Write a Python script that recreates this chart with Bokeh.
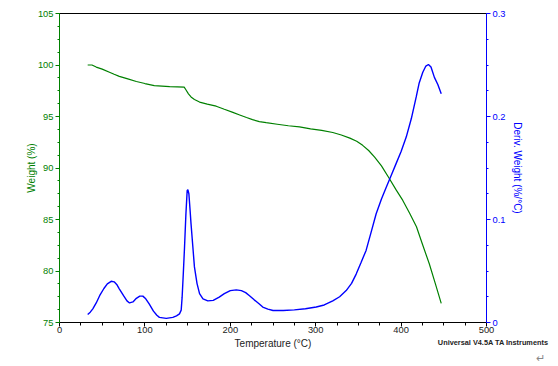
from bokeh.plotting import figure
from bokeh.models import LinearAxis, Range1d, FixedTicker, Title
from bokeh.embed import file_html
from bokeh.resources import INLINE

# Weight (%) curve
w_temp = [33, 38, 43, 50, 58.5, 64, 70, 80, 90, 100, 111, 120, 129, 138, 146, 148, 151, 154, 158, 164,
          173, 183.5, 193, 203, 211, 219, 226, 234, 242, 255, 268, 281, 294, 307, 320, 330, 340, 348,
          355, 362, 369, 377, 386, 394, 402, 410, 418, 425, 433, 440, 447]
w_val = [100.0, 100.0, 99.8, 99.6, 99.3, 99.1, 98.9, 98.65, 98.4, 98.2, 98.0, 97.95, 97.9, 97.88, 97.85,
         97.6, 97.2, 96.9, 96.65, 96.4, 96.2, 96.0, 95.7, 95.4, 95.15, 94.9, 94.7, 94.5, 94.4, 94.25,
         94.1, 94.0, 93.8, 93.65, 93.45, 93.2, 92.9, 92.6, 92.2, 91.7, 91.05, 90.2, 89.0, 87.9, 86.85,
         85.6, 84.3, 82.6, 80.7, 78.8, 76.85]

# Deriv. Weight (%/°C) curve
d_temp = [33, 36, 39, 43, 47, 52, 56, 60.5, 64, 67, 70, 75, 79, 82, 86, 90, 94, 97.6, 101, 105, 110,
          114, 117, 125, 132.7, 137, 140.5, 142.5, 143.6, 145, 146.4, 148, 149.5, 150.3, 151.5, 153,
          154, 156, 158, 161, 164, 168, 173.7, 180, 187, 193, 200, 207, 213, 218, 222.5, 228, 234,
          238, 244, 250, 262, 275, 288, 300.6, 310, 320, 328, 335.7, 342, 347.4, 353, 359, 365, 370.8,
          377, 382.5, 388, 394, 400, 406, 412, 417.7, 421, 425.4, 429, 432, 435, 439, 443, 447]
d_val = [0.0078, 0.0100, 0.0133, 0.019, 0.026, 0.033, 0.0375, 0.040, 0.0395, 0.037, 0.0327, 0.026,
         0.021, 0.019, 0.020, 0.0235, 0.0256, 0.0256, 0.023, 0.018, 0.011, 0.007, 0.005, 0.004, 0.005,
         0.0065, 0.0084, 0.012, 0.0246, 0.048, 0.073, 0.105, 0.128, 0.129, 0.125, 0.108, 0.096, 0.075,
         0.054, 0.038, 0.028, 0.023, 0.021, 0.0215, 0.0246, 0.028, 0.031, 0.0317, 0.031, 0.029, 0.026,
         0.022, 0.018, 0.015, 0.013, 0.0117, 0.0117, 0.0123, 0.0133, 0.015, 0.017, 0.021, 0.025, 0.031,
         0.038, 0.047, 0.058, 0.070, 0.088, 0.1056, 0.120, 0.131, 0.142, 0.154, 0.166, 0.180, 0.198,
         0.219, 0.232, 0.243, 0.249, 0.2505, 0.248, 0.238, 0.231, 0.222]

x_ticks = [0, 100, 200, 300, 400, 500]
w_ticks = [75, 80, 85, 90, 95, 100, 105]
d_ticks = [0.0, 0.1, 0.2, 0.3]

GREEN = "#008000"
BLUE = "#0000FF"
FONT = "Liberation Sans"

p = figure(frame_width=427, frame_height=309, output_backend="svg", toolbar_location=None,
           x_range=Range1d(0, 500), y_range=Range1d(75, 105),
           min_border_left=59, min_border_top=13, min_border_right=70, min_border_bottom=42)
p.extra_y_ranges = {"d": Range1d(0.0, 0.3)}
p.grid.visible = False
p.outline_line_color = "black"
p.background_fill_color = "white"
p.border_fill_color = "white"

p.line(w_temp, w_val, line_color=GREEN, line_width=1.2)
p.line(d_temp, d_val, line_color=BLUE, line_width=1.4, y_range_name="d")


def style(ax, col, labcol, minor_out):
    ax.axis_line_color = col
    ax.major_tick_line_color = col
    ax.minor_tick_line_color = col
    ax.major_tick_in = 0
    ax.major_tick_out = 4
    ax.minor_tick_in = 0
    ax.minor_tick_out = minor_out
    ax.major_label_text_font = FONT
    ax.major_label_text_font_size = "7pt"
    ax.major_label_text_color = labcol
    ax.axis_label_text_font = FONT
    ax.axis_label_text_font_size = "7.5pt"
    ax.axis_label_text_font_style = "normal"
    ax.axis_label_text_color = labcol


# bottom axis
xa = p.xaxis[0]
xa.ticker = FixedTicker(ticks=x_ticks, minor_ticks=list(range(0, 501, 25)))
xa.axis_label = "Temperature (°C)"
style(xa, "black", "#222222", 3)
xa.major_label_standoff = 0
xa.axis_label_standoff = 2

# left axis
ya = p.yaxis[0]
ya.ticker = FixedTicker(ticks=w_ticks, minor_ticks=[75 + 1.25 * i for i in range(25)])
ya.axis_label = "Weight (%)"
style(ya, GREEN, GREEN, 2)
ya.major_label_standoff = 2
ya.axis_label_standoff = -2

# right axis
ra = LinearAxis(y_range_name="d")
ra.ticker = FixedTicker(ticks=d_ticks, minor_ticks=[0.025 * i for i in range(13)])
ra.axis_label = "Deriv. Weight (%/°C)"
style(ra, BLUE, BLUE, 2)
ra.major_label_standoff = 2
ra.axis_label_standoff = 4
p.add_layout(ra, "right")

mark = Title(text="↵", align="right", vertical_align="top", text_font=FONT,
             text_font_size="8pt", text_font_style="normal", text_color="#888888",
             offset=-58, standoff=0)
p.add_layout(mark, "below")
note = Title(text="Universal V4.5A TA Instruments", align="right", vertical_align="top",
             text_font=FONT, text_font_size="5.5pt", text_font_style="bold", text_color="#222222",
             offset=-62, standoff=-56)
p.add_layout(note, "below")

open("out.html", "w").write(file_html(p, INLINE))
